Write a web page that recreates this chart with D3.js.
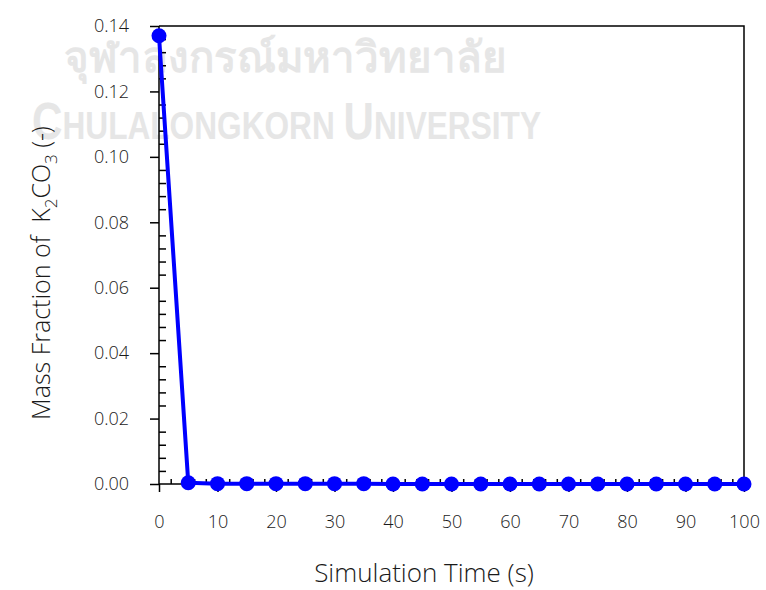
<!DOCTYPE html>
<html lang="en">
<head>
<meta charset="utf-8">
<title>Mass Fraction of K2CO3</title>
<script src="https://cdn.jsdelivr.net/npm/d3@7"></script>
<style>
  body { margin: 0; background: #fff; }
  .axis text { font-family: "Open Sans", "Noto Sans", sans-serif; font-size: 18px; font-weight: 300; fill: #1a1a1a; }
  .axis path { display: none; }
  .axis line { stroke: #000; stroke-width: 1.5; }
  .label { font-family: "Open Sans", "Noto Sans", sans-serif; font-weight: 300; fill: #1a1a1a; }
</style>
</head>
<body>
<div id="chart"></div>
<script>
// simulation time (s)
var times = [0, 5, 10, 15, 20, 25, 30, 35, 40, 45, 50, 55, 60, 65, 70, 75, 80, 85, 90, 95, 100];
// mass fraction of K2CO3 (-)
var massFraction = [0.137, 0.0004, 0.0001, 0.0001, 0.0001, 0.0001, 0.0001, 0.0001, 0, 0, 0,
                    0, 0, 0, 0, 0, 0, 0, 0, 0, 0];
var xTicks = [0, 10, 20, 30, 40, 50, 60, 70, 80, 90, 100];
var yTicks = [0, 0.02, 0.04, 0.06, 0.08, 0.10, 0.12, 0.14];

var W = 766, H = 590;
var margin = {top: 26, right: 22, bottom: 106, left: 159};
var width = W - margin.left - margin.right;
var height = H - margin.top - margin.bottom;

var svg = d3.select("#chart").append("svg")
  .attr("width", W)
  .attr("height", H);

// faint university watermark behind the chart
var wm = svg.append("g").attr("fill", "#e6e6e6");
wm.append("text")
  .attr("x", 64).attr("y", 72)
  .attr("textLength", 443).attr("lengthAdjust", "spacingAndGlyphs")
  .style("font", "bold 42px 'Noto Sans', 'DejaVu Sans', sans-serif")
  .text("จุฬาลงกรณ์มหาวิทยาลัย");
var wm2 = wm.append("text")
  .attr("x", 32).attr("y", 139)
  .attr("textLength", 509).attr("lengthAdjust", "spacingAndGlyphs")
  .style("font-family", "'Liberation Sans Narrow', 'Liberation Sans', sans-serif")
  .style("font-weight", "bold");
wm2.append("tspan").style("font-size", "52px").text("C");
wm2.append("tspan").style("font-size", "39px").text("HULALONGKORN ");
wm2.append("tspan").style("font-size", "52px").text("U");
wm2.append("tspan").style("font-size", "39px").text("NIVERSITY");

var g = svg.append("g")
  .attr("transform", "translate(" + margin.left + "," + margin.top + ")");

var x = d3.scaleLinear().domain([0, 100]).range([0, width]);
var y = d3.scaleLinear().domain([0, 0.14]).range([height, 0]);

//minor ticks (inside)
g.append("g")
  .attr("class", "axis")
  .attr("transform", "translate(0," + height + ")")
  .call(d3.axisTop(x).tickValues(d3.range(0, 101, 2).filter(function(d) { return d % 10 !== 0; }))
    .tickSize(5).tickFormat(""));
g.append("g")
  .attr("class", "axis")
  .call(d3.axisRight(y).tickValues(d3.range(0, 36).map(function(i) { return i * 0.004; }).filter(function(d, i) { return i % 5 !== 0; }))
    .tickSize(7).tickFormat(""));

//major ticks (outside) with labels
g.append("g")
  .attr("class", "axis")
  .attr("transform", "translate(0," + height + ")")
  .call(d3.axisBottom(x).tickValues(xTicks).tickSizeInner(8).tickSizeOuter(0).tickPadding(23).tickFormat(d3.format("d")));
g.append("g")
  .attr("class", "axis")
  .call(d3.axisLeft(y).tickValues(yTicks).tickSizeInner(9).tickSizeOuter(0).tickPadding(21).tickFormat(d3.format(".2f")));

//frame
g.append("path")
  .attr("d", "M0,0V" + height + "H" + width + "V0H0")
  .attr("fill", "none")
  .attr("stroke", "#000")
  .attr("stroke-width", 1.5);

var data = times.map(function(t, i) { return {t: t, v: massFraction[i]}; });

var line = d3.line()
  .x(function(d) { return x(d.t); })
  .y(function(d) { return y(d.v); });

g.append("path")
  .datum(data)
  .attr("d", line)
  .attr("fill", "none")
  .attr("stroke", "#0000ff")
  .attr("stroke-width", 4)
  .attr("stroke-linejoin", "round");

g.selectAll(".dot")
  .data(data).enter()
  .append("circle")
  .attr("class", "dot")
  .attr("cx", function(d) { return x(d.t); })
  .attr("cy", function(d) { return y(d.v); })
  .attr("r", 7.5)
  .attr("fill", "#0000ff");

//axis titles
svg.append("text")
  .attr("class", "label")
  .attr("x", 424).attr("y", 582)
  .attr("text-anchor", "middle")
  .style("font-size", "26px")
  .text("Simulation Time (s)");

var yl = svg.append("text")
  .attr("class", "label")
  .attr("transform", "translate(50,273) rotate(-90)")
  .attr("text-anchor", "middle")
  .style("font-size", "25px");
yl.append("tspan").text("Mass Fraction of\u00a0 K");
yl.append("tspan").attr("dy", 7).style("font-size", "17px").text("2");
yl.append("tspan").attr("dy", -7).text("CO");
yl.append("tspan").attr("dy", 7).style("font-size", "17px").text("3");
yl.append("tspan").attr("dy", -7).text(" (-)");
</script>
</body>
</html>
